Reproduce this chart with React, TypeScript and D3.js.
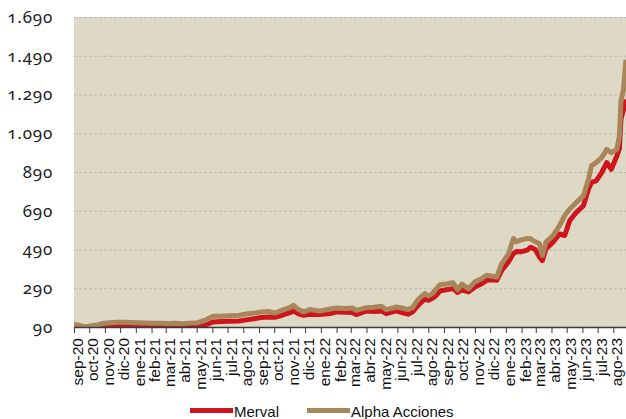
import React, { useEffect, useRef } from 'react';
import * as d3 from 'd3';

// fechas de cada punto leido (aprox. cada 2 semanas)
const dates = [
  '2020-09-01', '2020-09-10', '2020-09-20', '2020-10-01', '2020-10-15', '2020-10-28',
  '2020-11-10', '2020-11-24', '2020-12-10', '2020-12-24', '2021-01-05', '2021-01-20',
  '2021-02-05', '2021-02-20', '2021-03-05', '2021-03-20', '2021-04-05', '2021-04-16',
  '2021-05-03', '2021-05-18', '2021-06-02', '2021-06-18', '2021-07-05', '2021-07-24',
  '2021-08-10', '2021-08-25', '2021-09-05', '2021-09-20', '2021-10-02', '2021-10-18',
  '2021-11-01', '2021-11-08', '2021-11-18', '2021-11-28', '2021-12-10', '2021-12-30',
  '2022-01-19', '2022-02-02', '2022-02-18', '2022-03-04', '2022-03-12', '2022-04-01',
  '2022-04-15', '2022-04-30', '2022-05-10', '2022-05-30', '2022-06-10', '2022-06-22',
  '2022-07-01', '2022-07-08', '2022-07-15', '2022-07-25', '2022-08-01', '2022-08-10',
  '2022-08-17', '2022-08-24', '2022-09-05', '2022-09-19', '2022-09-28', '2022-10-06',
  '2022-10-19', '2022-11-01', '2022-11-12', '2022-11-24', '2022-12-05', '2022-12-14',
  '2022-12-24', '2023-01-06', '2023-01-16', '2023-01-22', '2023-01-30', '2023-02-12',
  '2023-02-19', '2023-02-28', '2023-03-08', '2023-03-14', '2023-03-21', '2023-04-04',
  '2023-04-17', '2023-04-27', '2023-05-07', '2023-05-20', '2023-06-03', '2023-06-13',
  '2023-06-19', '2023-06-28', '2023-07-09', '2023-07-19', '2023-07-28', '2023-08-08',
  '2023-08-13', '2023-08-16', '2023-08-21', '2023-08-26'
];

const alphaAcciones = [
  101, 100, 92, 94, 100, 108,
  112, 115, 114, 113, 112, 111,
  109, 110, 108, 109, 107, 110,
  112, 125, 145, 146, 148, 151,
  158, 163, 168, 170, 162, 178,
  190, 202, 180, 168, 180, 172,
  183, 188, 186, 188, 176, 190,
  192, 197, 180, 193, 188, 180,
  190, 219, 240, 262, 250, 265,
  288, 308, 312, 318, 282, 311,
  288, 323, 336, 357, 352, 348,
  418, 466, 547, 530, 538, 547,
  545, 530, 521, 459, 528, 562,
  613, 665, 699, 733, 767, 853,
  922, 939, 964, 1007, 990, 1007,
  1076, 1255, 1315, 1469
];

const merval = [
  100, 97, 89, 88, 89, 92,
  94, 96, 95, 94, 93, 92,
  91, 92, 90, 91, 89, 91,
  92, 100, 116, 118, 120, 121,
  128, 134, 139, 142, 140, 152,
  164, 173, 158, 150, 156, 155,
  159, 168, 166, 165, 154, 173,
  170, 173, 159, 173, 165, 156,
  168, 190, 210, 234, 228, 240,
  254, 276, 282, 288, 268, 282,
  271, 296, 310, 331, 334, 331,
  383, 426, 469, 480, 478, 487,
  502, 490, 452, 433, 493, 528,
  570, 562, 639, 682, 716, 802,
  836, 844, 887, 939, 904, 973,
  1010, 1161, 1212, 1264
];

const monthAbbr = ['ene', 'feb', 'mar', 'abr', 'may', 'jun', 'jul', 'ago', 'sep', 'oct', 'nov', 'dic'];
const yTicks = [90, 290, 490, 690, 890, 1090, 1290, 1490, 1690];
const seriesNames = ['Merval', 'Alpha Acciones'];
const colors = ['#D0141E', '#A8865A'];

const App = () => {
  const ref = useRef<SVGSVGElement>(null);
  const width = 626;
  const height = 419;
  const margin = { top: 17, right: 0, bottom: 92, left: 74 };

  useEffect(() => {
    document.body.style.margin = '0';
    const svg = d3.select(ref.current);
    svg.selectAll('*').remove();

    const parse = d3.utcParse('%Y-%m-%d');
    const xDates = dates.map(d => parse(d) as Date);

    const x = d3.scaleUtc()
      .domain([parse('2020-09-01') as Date, xDates[xDates.length - 1]])
      .range([margin.left, width - margin.right]);
    const y = d3.scaleLinear()
      .domain([90, 1690])
      .range([height - margin.bottom, margin.top]);

    // fondo del area de grafico
    svg.append('rect')
      .attr('x', margin.left)
      .attr('y', margin.top)
      .attr('width', width - margin.left - margin.right)
      .attr('height', height - margin.bottom - margin.top)
      .attr('fill', '#DDD9C4');

    // lineas de grilla punteadas
    svg.append('g')
      .selectAll('line')
      .data(yTicks.slice(1))
      .join('line')
      .attr('x1', margin.left)
      .attr('x2', width - margin.right)
      .attr('y1', d => y(d) + 0.5)
      .attr('y2', d => y(d) + 0.5)
      .attr('stroke', '#B9B9B9')
      .attr('stroke-dasharray', '3,2');

    // etiquetas eje y
    const fmt = d3.formatLocale({ decimal: ',', thousands: '.', grouping: [3], currency: ['$', ''] }).format(',d');
    svg.append('g')
      .selectAll('text')
      .data(yTicks)
      .join('text')
      .attr('x', 53)
      .attr('y', d => y(d))
      .attr('dy', '0.35em')
      .attr('text-anchor', 'end')
      .attr('font-family', 'Noto Sans')
      .attr('font-size', 17)
      .attr('letter-spacing', 0.8)
      .attr('fill', '#222')
      .style('font-variant-numeric', 'oldstyle-nums')
      .text(d => fmt(d));

    // lineas
    svg.append('clipPath').attr('id', 'plotClip')
      .append('rect')
      .attr('x', margin.left)
      .attr('y', margin.top - 5)
      .attr('width', width - margin.left)
      .attr('height', height - margin.bottom - margin.top + 5);

    const line = d3.line<number>()
      .x((_, i) => x(xDates[i]))
      .y(d => y(d));

    [merval, alphaAcciones].forEach((serie, i) => {
      svg.append('path')
        .datum(serie)
        .attr('clip-path', 'url(#plotClip)')
        .attr('fill', 'none')
        .attr('stroke', colors[i])
        .attr('stroke-width', 5)
        .attr('stroke-linejoin', 'round')
        .attr('d', line);
    });

    // eje x
    const monthTicks = d3.utcMonth.range(parse('2020-09-01') as Date, parse('2023-08-27') as Date);
    const xAxis = svg.append('g')
      .attr('transform', `translate(0, ${height - margin.bottom})`)
      .call(d3.axisBottom(x)
        .tickValues(monthTicks)
        .tickSize(6)
        .tickSizeOuter(0)
        .tickFormat(d => {
          const dt = d as Date;
          return `${monthAbbr[dt.getUTCMonth()]}-${String(dt.getUTCFullYear()).slice(2)}`;
        }));
    xAxis.select('.domain').attr('stroke', '#3a3a3a').attr('stroke-width', 1.5);
    xAxis.selectAll('.tick line').attr('stroke', '#3a3a3a');
    xAxis.selectAll('.tick text')
      .attr('font-family', 'Liberation Sans, Arial, sans-serif')
      .attr('font-size', 15.5)
      .attr('fill', '#111')
      .attr('text-anchor', 'end')
      .attr('transform', 'rotate(-90)')
      .attr('x', -11)
      .attr('y', 3)
      .attr('dy', '0.35em');

    // leyenda
    const legendX = [190, 307];
    const legend = svg.append('g');
    seriesNames.forEach((name, i) => {
      legend.append('line')
        .attr('x1', legendX[i])
        .attr('x2', legendX[i] + 43)
        .attr('y1', 410.5)
        .attr('y2', 410.5)
        .attr('stroke', colors[i])
        .attr('stroke-width', 5);
      legend.append('text')
        .attr('x', legendX[i] + 44)
        .attr('y', 416.5)
        .attr('font-family', 'Liberation Sans, Arial, sans-serif')
        .attr('font-size', 15)
        .attr('fill', '#111')
        .text(name);
    });
  }, []);

  return <svg ref={ref} width={width} height={height} style={{ display: 'block' }} />;
};

export default App;
